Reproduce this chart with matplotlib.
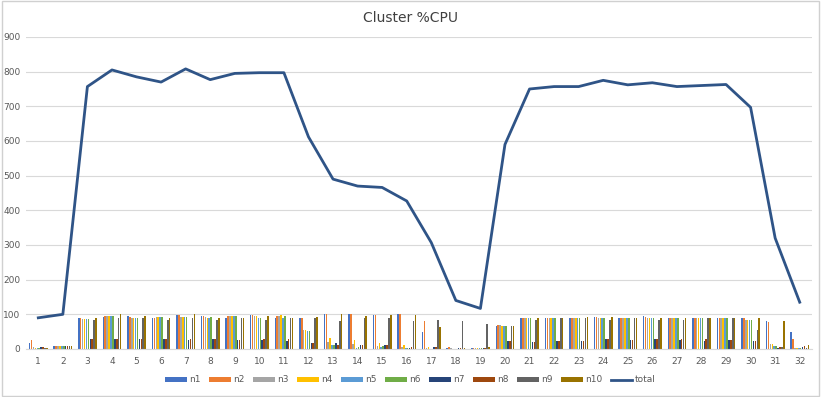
import matplotlib
matplotlib.use("Agg")
import matplotlib.pyplot as plt
import numpy as np
from matplotlib.patches import Rectangle

categories = list(range(1, 33))
series_names = ["n1", "n2", "n3", "n4", "n5", "n6", "n7", "n8", "n9", "n10"]
colors = ["#4472C4", "#ED7D31", "#A5A5A5", "#FFC000", "#5B9BD5",
          "#70AD47", "#264478", "#9E480E", "#636363", "#997300"]

n1 = [18, 8, 88, 93, 95, 88, 97, 95, 88, 98, 88, 90, 100, 100, 98, 100, 48, 2, 2, 65,
      90, 90, 88, 92, 88, 95, 88, 90, 90, 88, 80, 48]
n2 = [25, 8, 88, 96, 93, 90, 97, 95, 95, 97, 95, 90, 100, 100, 98, 100, 80, 5, 2, 70,
      90, 90, 90, 92, 90, 92, 88, 90, 90, 88, 77, 30]
n3 = [5, 8, 87, 96, 90, 92, 93, 93, 95, 95, 95, 55, 20, 15, 10, 5, 2, 2, 3, 68,
      88, 88, 88, 90, 90, 90, 88, 88, 90, 85, 15, 3]
n4 = [3, 8, 86, 96, 90, 93, 93, 90, 95, 95, 97, 55, 33, 25, 18, 12, 5, 1, 2, 67,
      88, 88, 88, 88, 88, 88, 88, 88, 88, 85, 15, 3]
n5 = [3, 8, 86, 95, 90, 93, 93, 90, 95, 88, 88, 52, 12, 3, 5, 2, 0, 1, 2, 67,
      88, 88, 88, 88, 88, 88, 88, 88, 88, 85, 8, 3]
n6 = [3, 8, 86, 95, 90, 93, 93, 92, 95, 88, 95, 52, 12, 5, 8, 2, 0, 1, 2, 67,
      88, 88, 88, 88, 88, 88, 88, 88, 88, 85, 10, 3]
n7 = [6, 10, 28, 28, 28, 28, 25, 28, 25, 25, 22, 18, 17, 12, 12, 3, 5, 3, 3, 22,
      20, 22, 22, 30, 25, 28, 25, 22, 25, 22, 2, 5]
n8 = [6, 10, 30, 28, 28, 28, 30, 30, 25, 28, 28, 18, 12, 12, 12, 5, 5, 2, 3, 22,
      20, 22, 22, 30, 25, 30, 28, 28, 25, 22, 5, 8]
n9 = [3, 10, 85, 90, 90, 85, 90, 85, 90, 85, 90, 90, 80, 88, 88, 80, 85, 80, 72, 67,
      85, 88, 88, 85, 88, 85, 85, 88, 88, 55, 5, 3]
n10 = [3, 10, 90, 100, 95, 90, 100, 90, 90, 95, 90, 92, 100, 95, 98, 98, 63, 2, 5, 67,
       90, 90, 92, 92, 90, 88, 90, 90, 90, 90, 82, 12]
total = [90, 100, 757, 805, 785, 770, 808, 777, 795, 797, 797, 612, 490, 470, 466, 427,
         307, 140, 117, 590, 750, 757, 757, 775, 762, 768, 757, 760, 763, 697, 320, 135]

series = [n1, n2, n3, n4, n5, n6, n7, n8, n9, n10]

fig = plt.figure(figsize=(8.21, 3.97), dpi=100)
fig.patches.append(Rectangle((0.002, 0.003), 0.996, 0.994, transform=fig.transFigure,
                             fill=False, edgecolor="#D0D0D0", linewidth=1.0))
ax = fig.add_axes([26 / 821, 48 / 397, 786 / 821, 312 / 397])

x = np.arange(len(categories))
group_w = 0.78
bw = group_w / len(series)
bar_handles = []
for i, (name, vals, c) in enumerate(zip(series_names, series, colors)):
    offs = -group_w / 2 + bw * (i + 0.5)
    b = ax.bar(x + offs, vals, width=bw * 0.8, color=c, label=name, zorder=2)
    bar_handles.append(b)

line, = ax.plot(x, total, color="#2F5487", linewidth=2.0, label="total", zorder=3)

ax.set_xlim(-0.5, len(categories) - 0.5)
ax.set_ylim(0, 900)
ax.set_yticks(range(0, 901, 100))
ax.set_xticks(x)
ax.set_xticklabels([str(c) for c in categories])
ax.tick_params(axis="both", length=0, labelsize=6.5, colors="#595959")
ax.tick_params(axis="x", pad=6)
ax.tick_params(axis="y", pad=4)
ax.grid(axis="y", color="#D9D9D9", linewidth=0.8, zorder=0)
ax.set_axisbelow(True)
for s in ["top", "right", "left"]:
    ax.spines[s].set_visible(False)
ax.spines["bottom"].set_color("#D9D9D9")

fig.text(0.5, 0.955, "Cluster %CPU", ha="center", va="center", fontsize=10, color="#404040")

handles = bar_handles + [line]
labels = series_names + ["total"]
leg = fig.legend(handles, labels, loc="center", bbox_to_anchor=(0.5, 0.043), ncol=11,
                 frameon=False, fontsize=6.5, handlelength=2.4, handleheight=0.45,
                 columnspacing=0.9, handletextpad=0.3)
for t in leg.get_texts():
    t.set_color("#595959")

fig.savefig("out.png", dpi=100)
